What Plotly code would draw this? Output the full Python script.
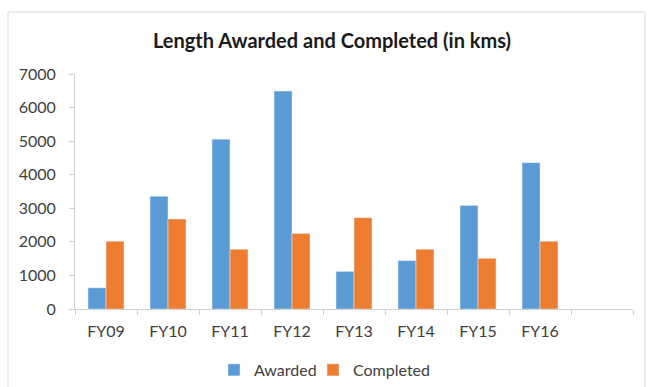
import plotly.graph_objects as go

categories = ["FY09", "FY10", "FY11", "FY12", "FY13", "FY14", "FY15", "FY16", " "]
awarded = [630, 3360, 5060, 6490, 1120, 1440, 3080, 4360, None]
completed = [2020, 2680, 1780, 2250, 2720, 1780, 1510, 2020, None]
y_ticks = [0, 1000, 2000, 3000, 4000, 5000, 6000, 7000]

W, H = 648, 387
ml, mr, mt, mb = 75, 15, 74, 78
pw, ph = W - ml - mr, H - mt - mb

fig = go.Figure()
fig.add_trace(go.Bar(name="Awarded", x=categories, y=awarded, marker_color="#5B9BD5",
                     legend="legend"))
fig.add_trace(go.Bar(name="Completed", x=categories, y=completed, marker_color="#ED7D31",
                     legend="legend2"))

font_family = "Lato, 'Open Sans', sans-serif"
legend_common = dict(orientation="h", xref="container", yref="container",
                     xanchor="left", y=1 - 370 / H, yanchor="middle",
                     font=dict(size=16, color="#404040"), itemwidth=30,
                     bgcolor="rgba(0,0,0,0)")
fig.update_layout(
    width=W, height=H,
    margin=dict(l=ml, r=mr, t=mt, b=mb, autoexpand=False),
    paper_bgcolor="white", plot_bgcolor="white",
    barmode="group", bargap=0.42, bargroupgap=0,
    title=dict(text="<b>Length Awarded and Completed (in kms)</b>",
               x=332 / W, xanchor="center", y=1 - 41 / H, yanchor="middle",
               font=dict(family=font_family, size=20, color="#1a1a1a")),
    font=dict(family=font_family, size=16, color="#404040"),
    showlegend=True,
    legend=dict(legend_common, x=214 / W),
    legend2=dict(legend_common, x=313 / W),
    xaxis=dict(showline=True, linecolor="#D0D0D0", linewidth=1, automargin=False,
               ticks="outside", tickson="boundaries", ticklen=5, tickcolor="#D0D0D0",
               ticklabelstandoff=8,
               showgrid=False, tickfont=dict(size=16, color="#404040")),
    yaxis=dict(range=[0, 7000], tickvals=y_ticks, showline=True, linecolor="#D0D0D0",
               linewidth=1, ticks="outside", ticklen=5, tickcolor="#D0D0D0", automargin=False,
               ticklabelstandoff=10,
               showgrid=False, zeroline=False, tickfont=dict(size=16, color="#404040")),
    shapes=[dict(type="rect", xref="paper", yref="paper",
                 x0=(8 - ml) / pw, x1=(645 - ml) / pw,
                 y0=-(H + 5 - (mt + ph)) / ph, y1=1 + (mt - 12) / ph,
                 line=dict(color="#D9D9D9", width=1), fillcolor="rgba(0,0,0,0)",
                 layer="below")],
)

fig.write_html("out.html", config={"displayModeBar": False},
               post_script="document.body.style.margin='0';")
